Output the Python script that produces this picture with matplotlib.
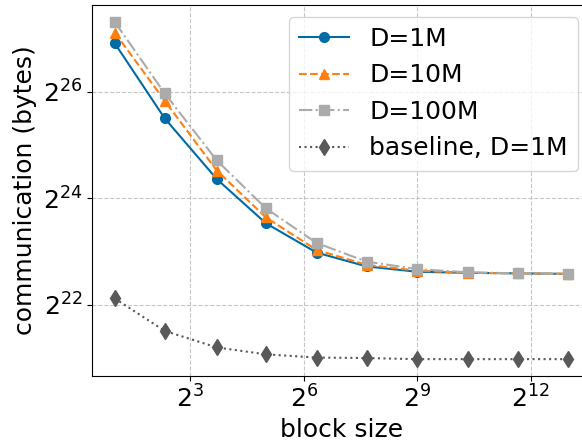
import matplotlib
matplotlib.use("Agg")
import matplotlib.pyplot as plt
from matplotlib.ticker import NullLocator
import numpy as np

# block sizes (x) and log2 of communication bytes
block = [2, 5, 13, 32, 81, 203, 512, 1290, 3251, 8192]
d1m = [26.91, 25.50, 24.36, 23.53, 22.98, 22.72, 22.62, 22.60, 22.59, 22.58]
d10m = [27.11, 25.83, 24.52, 23.64, 23.03, 22.75, 22.64, 22.60, 22.59, 22.58]
d100m = [27.31, 25.97, 24.71, 23.81, 23.16, 22.81, 22.67, 22.61, 22.59, 22.58]
base = [22.12, 21.51, 21.20, 21.07, 21.01, 21.00, 20.98, 20.98, 20.98, 20.98]

fig = plt.figure(figsize=(5.82, 4.42), dpi=100)
W, H = 582, 442
ax = fig.add_axes([92 / W, 1 - 376 / H, 499 / W, 371 / H])

ax.plot(block, 2 ** np.array(d1m), color="#006BA4", ls="-", marker="o", ms=7, lw=1.5, label="D=1M")
ax.plot(block, 2 ** np.array(d10m), color="#FF800E", ls="--", marker="^", ms=7, lw=1.5, label="D=10M")
ax.plot(block, 2 ** np.array(d100m), color="#ABABAB", ls="-.", marker="s", ms=7, lw=1.5, label="D=100M")
ax.plot(block, 2 ** np.array(base), color="#595959", ls=":", marker="d", ms=8, lw=1.5, label="baseline, D=1M")

ax.set_xscale("log", base=2)
ax.set_yscale("log", base=2)
ax.set_xticks([2 ** 3, 2 ** 6, 2 ** 9, 2 ** 12])
ax.set_yticks([2 ** 22, 2 ** 24, 2 ** 26])
ax.xaxis.set_minor_locator(NullLocator())
ax.yaxis.set_minor_locator(NullLocator())
ax.tick_params(labelsize=18)
ax.grid(True, ls="--", color="#b0b0b0", alpha=0.7)

ax.set_xlabel("block size", fontsize=18)
ax.set_ylabel("communication (bytes)", fontsize=18)

ax.legend(fontsize=18, loc="upper right", bbox_to_anchor=(578 / W, 1 - 17 / H),
          bbox_transform=fig.transFigure, borderaxespad=0)

fig.savefig("out.png", dpi=100)
